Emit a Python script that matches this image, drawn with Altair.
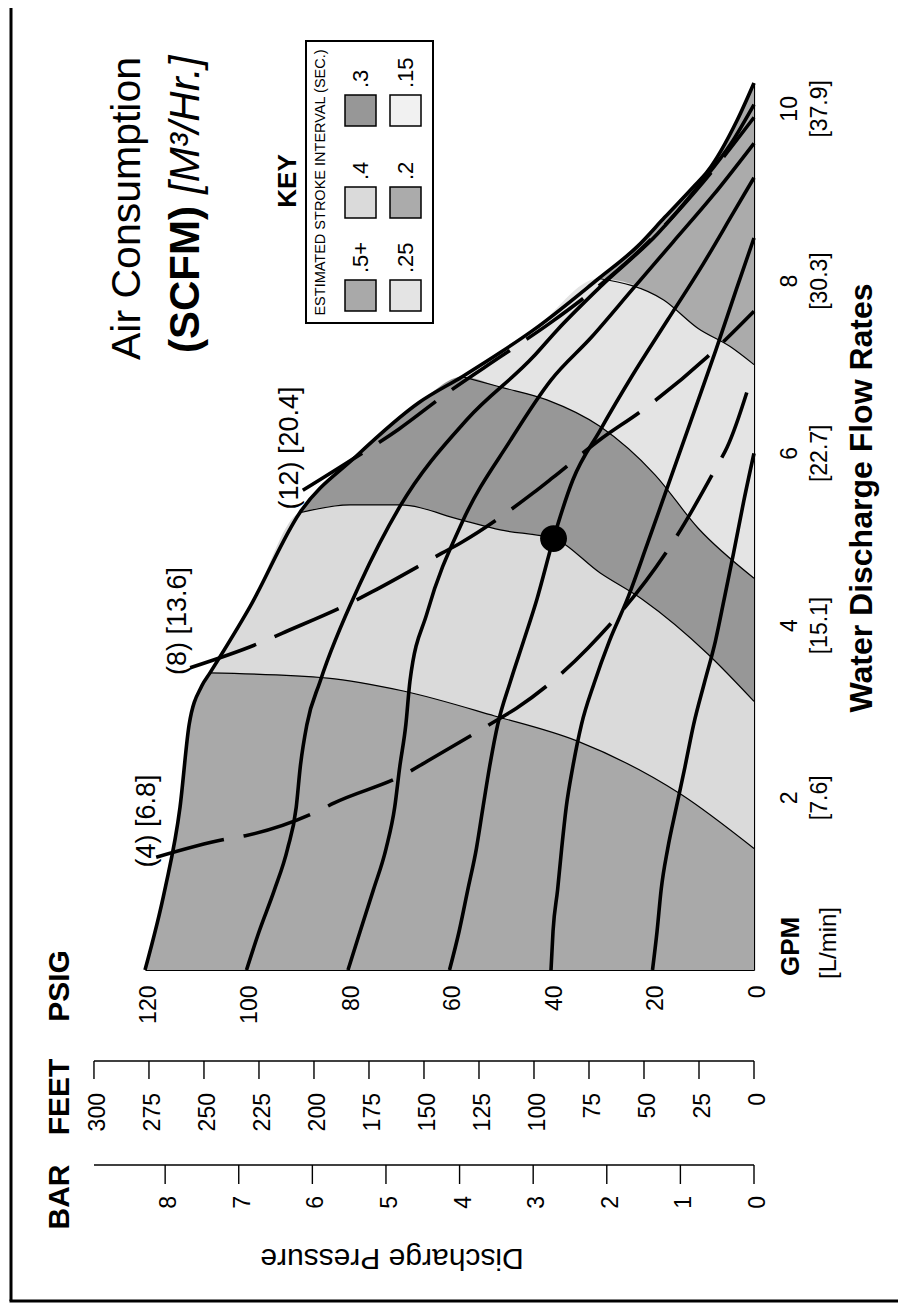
import altair as alt
import pandas as pd

FONT = "Liberation Sans"

# ---------------- tick values / labels ----------------
psig_ticks = [0, 20, 40, 60, 80, 100, 120]
feet_ticks = [0, 25, 50, 75, 100, 125, 150, 175, 200, 225, 250, 275, 300]
bar_ticks = [0, 1, 2, 3, 4, 5, 6, 7, 8]
gpm_ticks = [2, 4, 6, 8, 10]
gpm_labels = ["2", "4", "6", "8", "10"]
lpm_labels = ["[7.6]", "[15.1]", "[22.7]", "[30.3]", "[37.9]"]
key_labels = [".5+", ".4", ".3", ".25", ".2", ".15"]

FT_PER_PSI = 2.3067
PSI_PER_BAR = 14.5038

# ---------------- curves: (psig, gpm) ----------------
# 120 PSIG air curve = outer envelope
env_psig = [0, 3.3, 9.2, 12.0, 17.6, 23.0, 30.6, 43.5, 50.0, 57.5, 66.0, 78.5, 89.5, 99.3, 107.2, 108.8, 111.3, 113.1, 116.1, 120.0]
env_gpm = [10.3, 9.87, 9.27, 9.09, 8.74, 8.40, 8.03, 7.43, 7.17, 6.89, 6.59, 5.96, 5.31, 4.22, 3.45, 3.30, 2.85, 1.89, 0.93, 0.0]

p100_psig = [100, 97.5, 94.5, 91.9, 90.2, 89.4, 88.1, 85.5, 77.6, 69.8, 56.6, 43.5, 38.8, 30, 19, 11, 4.5, 0]
p100_gpm = [0, 0.45, 0.93, 1.41, 1.89, 2.36, 2.85, 3.35, 4.49, 5.38, 6.39, 7.12, 7.43, 7.95, 8.55, 9.1, 9.6, 10.05]

p80_psig = [80, 77.6, 75.0, 72.5, 70.8, 69.8, 68.6, 67.8, 64.4, 57.5, 48, 40, 32, 24, 16, 8, 0]
p80_gpm = [0, 0.45, 0.93, 1.41, 1.89, 2.36, 2.85, 3.35, 4.15, 5.2, 6.15, 6.85, 7.35, 7.9, 8.45, 9.0, 9.6]

p60_psig = [60, 58.1, 56.4, 54.7, 53.4, 52.1, 50.5, 48.0, 45.4, 42.8, 39.5, 35.7, 30.3, 24, 17, 10, 4, 0]
p60_gpm = [0, 0.45, 0.93, 1.41, 1.89, 2.36, 2.85, 3.35, 3.82, 4.3, 5.01, 5.69, 6.27, 6.9, 7.55, 8.2, 8.8, 9.2]

p40_psig = [40, 39.6, 38.7, 37.9, 37.0, 35.7, 34.0, 31.5, 28.5, 25.0, 21, 16.5, 12, 7.5, 3.5, 0]
p40_gpm = [0, 0.45, 0.93, 1.41, 1.89, 2.36, 2.85, 3.33, 3.82, 4.3, 4.95, 5.7, 6.45, 7.2, 7.9, 8.5]

p20_psig = [20, 19.1, 18.3, 17.0, 15.3, 13.6, 11.9, 9.8, 7.6, 5.9, 4.0, 2.0, 0]
p20_gpm = [0, 0.45, 0.93, 1.41, 1.89, 2.36, 2.85, 3.33, 3.82, 4.3, 4.85, 5.45, 6.0]

# air consumption (SCFM) lines, listed from their labels outwards
scfm4_psig = [117.8, 104.1, 100.2, 86.1, 82.7, 68.6, 64.8, 50.7, 46.8, 32.7, 15.2, 7.5, 5.3, 0.4]
scfm4_gpm = [1.31, 1.52, 1.56, 1.84, 1.94, 2.28, 2.41, 2.90, 3.04, 3.74, 5.04, 5.83, 6.07, 6.9]

scfm8_psig = [111.1, 97.3, 93.0, 79.6, 75.3, 61.5, 57.5, 43.5, 39.6, 30.3, 22.0, 9.2, 0]
scfm8_gpm = [3.51, 3.80, 3.91, 4.26, 4.39, 4.84, 4.97, 5.54, 5.72, 6.16, 6.50, 7.12, 7.65]

scfm12_psig = [88.9, 80.2, 70, 60, 50, 40, 30, 20, 10, 0]
scfm12_gpm = [5.57, 5.89, 6.28, 6.72, 7.12, 7.52, 7.97, 8.5, 9.15, 9.9]

# stroke-interval zone boundaries (from PSIG 0 to the envelope)
b1_psig = [0, 14.4, 34.9, 51.1, 69.1, 84.0, 107.2]          # .5+ / .4
b1_gpm = [1.41, 2.04, 2.66, 2.95, 3.24, 3.39, 3.45]
b2_psig = [0, 9.1, 21.9, 30.3, 39.5, 50.0, 57.9, 69.8, 79.6, 89.5]   # .4 / .3
b2_gpm = [3.12, 3.67, 4.30, 4.61, 5.01, 5.11, 5.23, 5.40, 5.40, 5.31]
b3_psig = [0, 11.0, 19.5, 30.3, 40.8, 50.0, 57.5]            # .3 / .25
b3_gpm = [4.55, 5.13, 5.75, 6.31, 6.62, 6.77, 6.89]
b4_psig = [0, 4.7, 11.0, 17.8, 30.6]                          # .25 / .2
b4_gpm = [7.03, 7.24, 7.45, 7.78, 8.03]

# example operating point
dot_psig = [39.5]
dot_gpm = [5.01]

# ---------------- styles ----------------
zone_colors = {".5+": "#a9a9a9", ".4": "#dadada", ".3": "#979797",
               ".25": "#e4e4e4", ".2": "#ababab", ".15": "#f1f1f1"}

W, H = 609, 887


def cdf(ps, gs):
    return pd.DataFrame({"psig": ps, "gpm": gs, "i": list(range(len(ps)))})


def union_top(bp, bg):
    end = bp[-1]
    ps = list(bp) + [p for p in env_psig if p > end]
    gs = list(bg) + [g for p, g in zip(env_psig, env_gpm) if p > end]
    return cdf(ps, gs)


xs = alt.Scale(domain=[0, 120], reverse=True, nice=False, zero=False)
ys = alt.Scale(domain=[0, 10.3], nice=False, zero=True)
xaxis = alt.Axis(values=psig_ticks, labelAngle=270, labelFontSize=23, labelFont=FONT,
                 labelColor="black", ticks=False, domain=True, domainColor="black",
                 domainWidth=1.2, grid=False, title=None, labelPadding=15,
                 labelOffset=3, labelFlush=False, labelOverlap=False, orient="bottom")
yaxis = alt.Axis(orient="right", labels=False, ticks=False, domain=True,
                 domainColor="black", domainWidth=1.2, grid=False, title=None)
X = alt.X("psig:Q", scale=xs, axis=xaxis)
Y = alt.Y("gpm:Q", scale=ys, axis=yaxis, stack=None)

layers = []

# zones, painted from the outermost to the innermost
layers.append(alt.Chart(cdf(env_psig, env_gpm)).mark_area(
    color=zone_colors[".2"], interpolate="monotone", opacity=1).encode(x=X, y=Y))
for bp, bg, z in [(b4_psig, b4_gpm, ".25"), (b3_psig, b3_gpm, ".3"),
                  (b2_psig, b2_gpm, ".4"), (b1_psig, b1_gpm, ".5+")]:
    layers.append(alt.Chart(union_top(bp, bg)).mark_area(
        color=zone_colors[z], interpolate="monotone", opacity=1).encode(x=X, y=Y))

# thin zone boundaries
for bp, bg in [(b1_psig, b1_gpm), (b2_psig, b2_gpm), (b3_psig, b3_gpm), (b4_psig, b4_gpm)]:
    layers.append(alt.Chart(cdf(bp, bg)).mark_line(
        color="black", strokeWidth=1.2, interpolate="monotone").encode(x=X, y=Y))

# air pressure curves
for ps, gs in [(env_psig, env_gpm), (p100_psig, p100_gpm), (p80_psig, p80_gpm),
               (p60_psig, p60_gpm), (p40_psig, p40_gpm), (p20_psig, p20_gpm)]:
    layers.append(alt.Chart(cdf(ps, gs)).mark_line(
        color="black", strokeWidth=3.6, interpolate="monotone").encode(x=X, y=Y))

# SCFM lines (long dashes)
for ps, gs in [(scfm4_psig, scfm4_gpm), (scfm8_psig, scfm8_gpm), (scfm12_psig, scfm12_gpm)]:
    layers.append(alt.Chart(cdf(ps, gs)).mark_line(
        color="black", strokeWidth=3.6, strokeDash=[70, 20], interpolate="monotone").encode(
        x=X, y=Y, order=alt.Order("i:Q")))

# operating point
layers.append(alt.Chart(cdf(dot_psig, dot_gpm)).mark_circle(
    size=720, color="black", opacity=1).encode(x=X, y=Y))

# GPM / L/min labels at the right
gpm_df = pd.DataFrame({"gpm": gpm_ticks, "n": gpm_labels, "l": lpm_labels})
layers.append(alt.Chart(gpm_df).mark_text(angle=270, font=FONT, fontSize=23, color="black",
                                          align="center", baseline="middle").encode(
    x=alt.value(645), y=Y, text="n:N"))
layers.append(alt.Chart(gpm_df).mark_text(angle=270, font=FONT, fontSize=23, color="black",
                                          align="center", baseline="middle").encode(
    x=alt.value(675), y=Y, text="l:N"))

# FEET and BAR scales below the PSIG axis
feet_df = pd.DataFrame({"ft": feet_ticks})
bar_df = pd.DataFrame({"bar": bar_ticks})
FEET_Y, BAR_Y = 978, 1082
feet_base = alt.Chart(feet_df).transform_calculate(psig="datum.ft / %f" % FT_PER_PSI)
bar_base = alt.Chart(bar_df).transform_calculate(psig="datum.bar * %f" % PSI_PER_BAR)
layers.append(feet_base.mark_line(color="black", strokeWidth=1.4).encode(x=X, y=alt.value(FEET_Y)))
layers.append(feet_base.mark_rule(color="black", strokeWidth=1.4).encode(
    x=X, y=alt.value(FEET_Y), y2=alt.value(FEET_Y + 18)))
layers.append(feet_base.mark_text(angle=270, font=FONT, fontSize=23, color="black",
                                  align="right", baseline="middle", dy=4).encode(
    x=X, y=alt.value(FEET_Y + 32), text=alt.Text("ft:Q", format="d")))
layers.append(feet_base.mark_line(color="black", strokeWidth=1.4).encode(x=X, y=alt.value(BAR_Y)))
layers.append(bar_base.mark_rule(color="black", strokeWidth=1.4).encode(
    x=X, y=alt.value(BAR_Y), y2=alt.value(BAR_Y + 19)))
layers.append(bar_base.mark_text(angle=270, font=FONT, fontSize=23, color="black",
                                 align="right", baseline="middle", dy=4).encode(
    x=X, y=alt.value(BAR_Y + 31), text=alt.Text("bar:Q", format="d")))

one = pd.DataFrame({"k": [0]})


def label(s, x, y, size, angle=270, align="center", baseline="middle",
          weight="normal", style="normal"):
    return alt.Chart(one).mark_text(text=s, font=FONT, fontSize=size, angle=angle,
                                    align=align, baseline=baseline, fontWeight=weight,
                                    fontStyle=style, color="black").encode(
        x=alt.value(x), y=alt.value(y))


# axis headers and titles
layers.append(label("PSIG", -85, 903, 30, weight="bold"))
layers.append(label("FEET", -85, 1014, 30, weight="bold"))
layers.append(label("BAR", -85, 1114, 30, weight="bold"))
layers.append(label("Discharge Pressure", 247, 1175, 30, angle=180))
layers.append(label("GPM", 646, 893, 26, align="left", weight="bold"))
layers.append(label("[L/min]", 684, 896, 24, align="left"))
layers.append(label("Water Discharge Flow Rates", 717, 415, 32, weight="bold"))

# chart title
layers.append(label("Air Consumption", -5, 277, 41, align="left", baseline="alphabetic"))
layers.append(label("(SCFM)", 54, 270, 42, align="left", baseline="alphabetic", weight="bold"))
layers.append(label("[M\u00b3/Hr.]", 54, 111, 42, align="left", baseline="alphabetic", style="italic"))

# SCFM annotations
layers.append(label("(4) [6.8]", 1.5, 738, 27))
layers.append(label("(8) [13.6]", 33, 538, 27))
layers.append(label("(12) [20.4]", 145, 365, 27))

# key
layers.append(label("KEY", 143, 98, 26, weight="bold"))
layers.append(alt.Chart(one).mark_rect(fill="white", stroke="black", strokeWidth=2).encode(
    x=alt.value(161), x2=alt.value(288), y=alt.value(-42), y2=alt.value(240)))
layers.append(label("ESTIMATED STROKE INTERVAL (SEC.)", 175.5, 99.5, 14.5))
row_x = [200, 245]
col_y = [197, 104, 12]
SW = 31
for idx, lab in enumerate(key_labels):
    r, c = idx // 3, idx % 3
    x0, y0 = row_x[r], col_y[c]
    layers.append(alt.Chart(one).mark_rect(fill=zone_colors[lab], stroke="black", strokeWidth=1.5).encode(
        x=alt.value(x0), x2=alt.value(x0 + SW), y=alt.value(y0), y2=alt.value(y0 + SW)))
    layers.append(label(lab, x0 + SW / 2, y0 - 7, 22, align="left"))

# page frame (left and bottom edges)
layers.append(alt.Chart(one).mark_rule(color="black", strokeWidth=3).encode(
    x=alt.value(-134), y=alt.value(-75), y2=alt.value(1218)))
layers.append(alt.Chart(one).mark_rule(color="black", strokeWidth=3).encode(
    x=alt.value(-135.5), x2=alt.value(753), y=alt.value(1218)))

chart = alt.layer(*layers).properties(
    width=W, height=H,
    padding={"left": 137, "top": 75, "right": 144, "bottom": 333},
    autosize=alt.AutoSizeParams(type="none"),
    background="white",
).configure_view(strokeWidth=0)

chart.save("out.html", embed_options={"renderer": "svg", "actions": False})
